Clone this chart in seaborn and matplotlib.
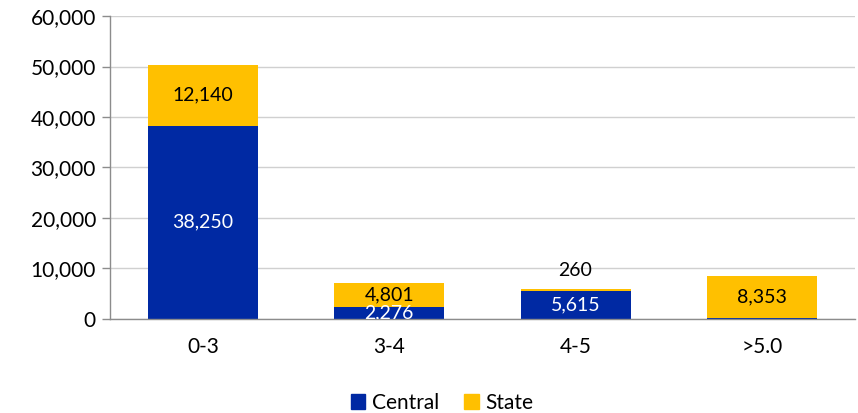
import matplotlib

matplotlib.use("Agg")

import matplotlib.pyplot as plt
import numpy as np
import pandas as pd
import seaborn as sns
from matplotlib.patches import Patch
from matplotlib.ticker import FuncFormatter

categories = ["0-3", "3-4", "4-5", ">5.0"]
central = [38250, 2276, 5615, 150]
state = [12140, 4801, 260, 8353]
central_labels = ["38,250", "2,276", "5,615", ""]
state_labels = ["12,140", "4,801", "260", "8,353"]

BLUE = "#0029A3"
GOLD = "#FFC000"

sns.set_theme(style="white")
plt.rcParams["font.family"] = ["Lato", "DejaVu Sans"]
plt.rcParams["text.color"] = "black"
plt.rcParams["xtick.color"] = "black"
plt.rcParams["ytick.color"] = "black"

df = pd.DataFrame({"category": categories, "central": central, "state": state})
df["total"] = df["central"] + df["state"]

fig = plt.figure(figsize=(8.58, 4.13), dpi=100)
ax = fig.add_axes([0.128, 0.228, 0.8685, 0.733])

sns.barplot(data=df, x="category", y="total", color=GOLD, width=0.59, saturation=1,
            linewidth=0, ax=ax)
sns.barplot(data=df, x="category", y="central", color=BLUE, width=0.59, saturation=1,
            linewidth=0, ax=ax)

ax.set_ylim(0, 60000)
ax.set_xlim(-0.5, len(categories) - 0.5)
ax.set_yticks(np.arange(0, 60001, 10000))
ax.yaxis.set_major_formatter(FuncFormatter(lambda v, _: f"{int(v):,}"))
ax.grid(axis="y", color="#D0D0D0", linewidth=1)
ax.set_axisbelow(True)
ax.set_xlabel("")
ax.set_ylabel("")

for side in ("top", "right"):
    ax.spines[side].set_visible(False)
for side in ("left", "bottom"):
    ax.spines[side].set_color("#8C8C8C")
    ax.spines[side].set_linewidth(1)

ax.set_xticks(np.arange(-0.5, len(categories)), minor=True)
ax.tick_params(axis="x", which="major", length=0, pad=13, labelsize=15, labelcolor="black")
ax.tick_params(axis="x", which="minor", length=6, width=1, color="#8C8C8C", direction="out")
ax.tick_params(axis="y", length=6, width=1, color="#8C8C8C", direction="out", labelsize=15,
               labelcolor="black", left=True, pad=4)

for i, row in df.iterrows():
    if central_labels[i]:
        ax.text(i, row["central"] / 2, central_labels[i], ha="center", va="center",
                color="white", fontsize=14, clip_on=True)
    if row["state"] < 1000:
        ax.text(i, row["total"] + 3800, state_labels[i], ha="center", va="center",
                color="black", fontsize=14)
    else:
        ax.text(i, row["central"] + row["state"] / 2, state_labels[i], ha="center",
                va="center", color="black", fontsize=14)

handles = [Patch(color=BLUE, label="Central"), Patch(color=GOLD, label="State")]
fig.legend(handles=handles, loc="center", bbox_to_anchor=(0.515, 0.025), ncol=2,
           frameon=False, fontsize=15, handlelength=0.7, handleheight=0.7,
           handletextpad=0.3, columnspacing=1.2)

fig.savefig("out.png", dpi=100, facecolor="white")
